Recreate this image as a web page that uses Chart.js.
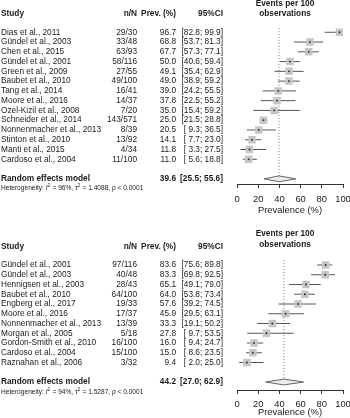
<!DOCTYPE html>
<html>
<head>
<meta charset="utf-8">
<script src="https://cdn.jsdelivr.net/npm/chart.js@4.4.1/dist/chart.umd.min.js"></script>
<style>
  body { margin: 0; background: #fff; }
  #wrap { position: relative; width: 350px; height: 418px; overflow: hidden; }
  canvas { position: absolute; left: 0; }
</style>
</head>
<body>
<div id="wrap">
  <canvas id="forest1" width="350" height="216" style="top:0px"></canvas>
  <canvas id="forest2" width="350" height="212" style="top:206px"></canvas>
</div>
<script>
// ---- panel 1 data ----
const studies1 = ["Dias et al., 2011", "Gündel et al., 2003", "Chen et al., 2015", "Gündel et al., 2001",
  "Green et al., 2009", "Baubet et al., 2010", "Tang et al., 2014", "Moore et al., 2016",
  "Ozel-Kizil et al., 2008", "Schneider et al., 2014", "Nonnenmacher et al., 2013",
  "Stinton et al., 2010", "Manti et al., 2015", "Cardoso et al., 2004"];
const events1 = [29, 33, 63, 58, 27, 49, 16, 14, 7, 143, 8, 13, 4, 11];
const totals1 = [30, 48, 93, 116, 55, 100, 41, 37, 20, 571, 39, 92, 34, 100];
const prev1 = [96.7, 68.8, 67.7, 50.0, 49.1, 49.0, 39.0, 37.8, 35.0, 25.0, 20.5, 14.1, 11.8, 11.0];
const lower1 = [82.8, 53.7, 57.3, 40.6, 35.4, 38.9, 24.2, 22.5, 15.4, 21.5, 9.3, 7.7, 3.3, 5.6];
const upper1 = [99.9, 81.3, 77.1, 59.4, 62.9, 59.2, 55.5, 55.2, 59.2, 28.8, 36.5, 23.0, 27.5, 18.8];
const pooled1 = [39.6, 25.5, 55.6]; // estimate, lower, upper

// ---- panel 2 data ----
const studies2 = ["Gündel et al., 2001", "Gündel et al., 2003", "Hennigsen et al., 2003", "Baubet et al., 2010",
  "Engberg et al., 2017", "Moore et al., 2016", "Nonnenmacher et al., 2013", "Morgan et al., 2005",
  "Gordon-Smith et al., 2010", "Cardoso et al., 2004", "Raznahan et al., 2006"];
const events2 = [97, 40, 28, 64, 19, 17, 13, 5, 16, 15, 3];
const totals2 = [116, 48, 43, 100, 33, 37, 39, 18, 100, 100, 32];
const prev2 = [83.6, 83.3, 65.1, 64.0, 57.6, 45.9, 33.3, 27.8, 16.0, 15.0, 9.4];
const lower2 = [75.6, 69.8, 49.1, 53.8, 39.2, 29.5, 19.1, 9.7, 9.4, 8.6, 2.0];
const upper2 = [89.8, 92.5, 79.0, 73.4, 74.5, 63.1, 50.2, 53.5, 24.7, 23.5, 25.0];
const pooled2 = [44.2, 27.0, 62.9];

// heterogeneity stats, one per panel
const hetI2 = [96, 94];
const hetTau2 = ["1.4088", "1.5287"];
const hetP = ["< 0.0001", "< 0.0001"];

const xTicks = [0, 20, 40, 60, 80, 100];

const FONT = '"Liberation Sans", Arial, sans-serif';
const TXT = "#1a1a1a";
const FS = 8.3; // table font size

const fmtCI = (lo, hi) => "[" + (lo < 10 ? " " : "") + lo.toFixed(1) + "; " + (hi < 10 ? " " : "") + hi.toFixed(1) + "]";

// draws the table columns, titles and heterogeneity line next to the plot
function makeTextPlugin(p) {
  return {
    id: "textColumns",
    afterDraw(chart) {
      const ctx = chart.ctx;
      const y = chart.scales.y;
      const colN = 137, colPrev = 176, colCI = 223;
      ctx.save();
      ctx.fillStyle = TXT;
      ctx.textBaseline = "middle";

      // title above the plot
      ctx.font = "bold " + FS + "px " + FONT;
      ctx.textAlign = "center";
      ctx.fillText("Events per 100", 285, p.titleY[0]);
      ctx.fillText("observations", 285, p.titleY[1]);

      // header
      const hy = y.getPixelForValue(p.headerRow);
      ctx.textAlign = "left";
      ctx.fillText("Study", 1, hy);
      ctx.textAlign = "right";
      ctx.fillText("n/N", colN, hy);
      ctx.fillText("Prev. (%)", colPrev, hy);
      ctx.fillText("95%CI", colCI, hy);

      // one row per study
      ctx.font = FS + "px " + FONT;
      p.studies.forEach((s, i) => {
        const ry = y.getPixelForValue(i);
        ctx.textAlign = "left";
        ctx.fillText(s, 1, ry);
        ctx.textAlign = "right";
        ctx.fillText(p.events[i] + "/" + p.totals[i], colN, ry);
        ctx.fillText(p.prev[i].toFixed(1), colPrev, ry);
        ctx.fillText(fmtCI(p.lower[i], p.upper[i]), colCI, ry);
      });

      // pooled row
      const ry = y.getPixelForValue(p.randomRow);
      ctx.font = "bold " + FS + "px " + FONT;
      ctx.textAlign = "left";
      ctx.fillText("Random effects model", 1, ry);
      ctx.textAlign = "right";
      ctx.fillText(p.pooled[0].toFixed(1), colPrev, ry);
      ctx.fillText(fmtCI(p.pooled[1], p.pooled[2]), colCI, ry);

      // heterogeneity, written piece by piece for italics and superscripts
      const hy2 = y.getPixelForValue(p.randomRow + 1);
      const parts = [
        { t: "Heterogeneity: " }, { t: "I", it: true }, { t: "2", sup: true },
        { t: " = " + p.i2 + "%, " }, { t: "\u03c4" }, { t: "2", sup: true },
        { t: " = " + p.tau2 + ", " }, { t: "p", it: true }, { t: " " + p.pval }
      ];
      ctx.textAlign = "left";
      let x = 1;
      parts.forEach((part) => {
        const size = part.sup ? 4.8 : 6.6;
        ctx.font = (part.it ? "italic " : "") + size + "px " + FONT;
        ctx.fillText(part.t, x, part.sup ? hy2 - 2.5 : hy2);
        x += ctx.measureText(part.t).width + (part.sup ? 0.4 : 0);
      });
      ctx.restore();
    }
  };
}

function buildPanel(canvasId, p) {
  const ctx = document.getElementById(canvasId).getContext("2d");
  const r = p.randomRow;

  // whiskers for each study
  const ciSets = p.lower.map((lo, i) => ({
    type: "line",
    data: [{ x: lo, y: i }, { x: p.upper[i], y: i }],
    borderColor: "#555",
    borderWidth: 1,
    pointRadius: 0,
    order: 3
  }));

  const points = p.prev.map((v, i) => ({ x: v, y: i }));

  const datasets = [
    ...ciSets,
    {
      // dotted line at the pooled estimate
      type: "line",
      data: [{ x: p.pooled[0], y: p.refTop }, { x: p.pooled[0], y: r - 0.3 }],
      borderColor: "#777",
      borderWidth: 1,
      borderDash: [1, 2],
      pointRadius: 0,
      order: 4
    },
    {
      type: "scatter",
      data: points,
      pointStyle: "rect",
      pointRadius: 5.3,
      backgroundColor: "#c6c6c6",
      borderWidth: 0,
      order: 2
    },
    {
      type: "scatter",
      data: points,
      pointStyle: "circle",
      pointRadius: 0.9,
      backgroundColor: "#222",
      borderWidth: 0,
      order: 1
    },
    {
      // pooled diamond
      type: "line",
      data: [{ x: p.pooled[1], y: r }, { x: p.pooled[0], y: r - 0.3 }, { x: p.pooled[2], y: r },
             { x: p.pooled[0], y: r + 0.3 }, { x: p.pooled[1], y: r }],
      borderColor: "#666",
      borderWidth: 1,
      backgroundColor: "#ececec",
      fill: "shape",
      pointRadius: 0,
      order: 0
    }
  ];

  return new Chart(ctx, {
    type: "scatter",
    data: { datasets },
    options: {
      responsive: false,
      animation: false,
      events: [],
      layout: { padding: { top: p.chartTop, left: 237, right: 7, bottom: 0 } },
      plugins: { legend: { display: false }, tooltip: { enabled: false } },
      scales: {
        x: {
          type: "linear",
          min: 0,
          max: 100,
          afterBuildTicks: (s) => { s.ticks = xTicks.map((v) => ({ value: v })); },
          ticks: { color: TXT, font: { family: FONT, size: 9.4 }, padding: p.tickPad, maxRotation: 0, autoSkip: false },
          grid: { display: true, drawOnChartArea: false, drawTicks: true, tickLength: 4, color: "#333", lineWidth: 1 },
          border: { display: true, color: "#333", width: 1 },
          title: { display: true, text: "Prevalence (%)", color: TXT, font: { family: FONT, size: 9.4 }, padding: 0 },
          afterFit: (s) => { s.height = p.axisHeight; s.paddingLeft = 0; s.paddingRight = 0; }
        },
        y: { type: "linear", min: -1, max: p.yMax, reverse: true, display: false }
      }
    },
    plugins: [makeTextPlugin(p)]
  });
}

buildPanel("forest1", {
  studies: studies1, events: events1, totals: totals1, prev: prev1, lower: lower1, upper: upper1,
  pooled: pooled1, i2: hetI2[0], tau2: hetTau2[0], pval: hetP[0],
  randomRow: studies1.length + 1, headerRow: -1.95, refTop: -0.45,
  chartTop: 22.5, yMax: 15.53, axisHeight: 32, tickPad: 6, titleY: [3.5, 14]
});

buildPanel("forest2", {
  studies: studies2, events: events2, totals: totals2, prev: prev2, lower: lower2, upper: upper2,
  pooled: pooled2, i2: hetI2[1], tau2: hetTau2[1], pval: hetP[1],
  randomRow: studies2.length + 1, headerRow: -1.85, refTop: -0.5,
  chartTop: 49.25, yMax: 12.82, axisHeight: 28, tickPad: 4.5, titleY: [27.5, 38.7]
});
</script>
</body>
</html>
